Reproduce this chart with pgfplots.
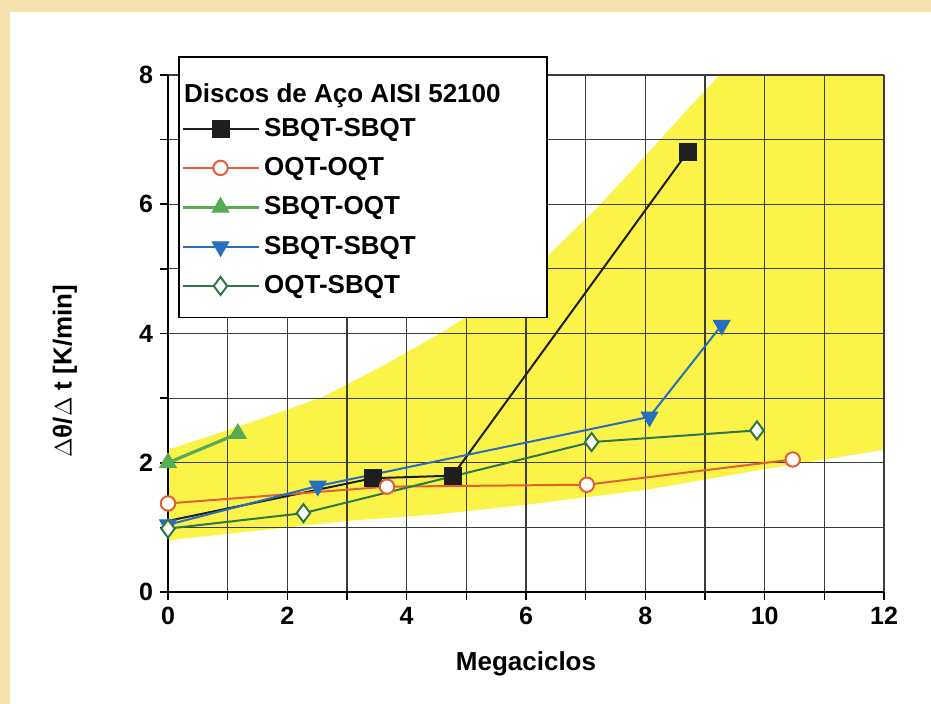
\documentclass[border=0pt]{standalone}
\usepackage{fontspec}
\setmainfont{Liberation Sans}
\usepackage{pgfplots}
\pgfplotsset{compat=1.18}
\definecolor{beige}{RGB}{245,226,176}
\definecolor{band}{RGB}{252,243,72}
\definecolor{gridc}{RGB}{60,60,60}
\definecolor{sblack}{RGB}{30,30,30}
\definecolor{sred}{RGB}{225,95,55}
\definecolor{sgreen}{RGB}{85,172,85}
\definecolor{sblue}{RGB}{40,110,190}
\definecolor{sdgreen}{RGB}{45,120,75}
\begin{document}
\begin{tikzpicture}
\path[use as bounding box, fill=white] (-84pt,-56pt) rectangle (381.5pt,296pt);
\fill[beige] (-84pt,290pt) rectangle (381.5pt,296pt);
\fill[beige] (-84pt,-56pt) rectangle (-79pt,296pt);
\begin{axis}[
  at={(0pt,0pt)}, anchor=south west,
  scale only axis, width=358pt, height=258.5pt,
  xmin=0, xmax=12, ymin=0, ymax=8,
  hide axis,
]
\addplot[fill=band, draw=none] coordinates {
 (0,2.2) (1.5,2.66) (2.6,3.02) (3.6,3.5) (4.6,4.02) (5.5,4.55) (6.35,5.19) (7.2,5.95) (8,6.75) (8.86,7.62) (9.25,8)
 (12,8) (12,2.2) (10,1.9) (8,1.58) (6,1.35) (4.5,1.2) (3,1.1) (1.5,0.95) (0,0.8)} -- cycle;
\end{axis}
\begin{axis}[
  at={(0pt,0pt)}, anchor=south west,
  scale only axis, width=358pt, height=258.5pt,
  xmin=0, xmax=12, ymin=0, ymax=8,
  xtick={0,2,...,12}, minor xtick={1,3,...,11},
  ytick={0,2,...,8}, minor ytick={1,3,5,7},
  grid=both,
  major grid style={gridc, line width=0.6pt},
  minor grid style={gridc, line width=0.6pt},
  axis lines=left,
  axis line style={-, line width=1.2pt, black},
  tick align=outside,
  major tick length=4pt, minor tick length=4pt,
  tick style={black, line width=0.8pt},
  /pgf/number format/assume math mode=true,
  ticklabel style={font=\bfseries\fontsize{12.5}{14}\selectfont},
  xlabel={Megaciclos},
  ylabel={$\Delta$θ/$\Delta$ t [K/min]},
  every axis x label/.style={at={(axis description cs:0.5,-0.139)}, anchor=center, font=\bfseries\fontsize{13}{15}\selectfont},
  every axis y label/.style={at={(axis description cs:-0.144,0.427)}, rotate=90, anchor=center, font=\bfseries\fontsize{13}{15}\selectfont},
  legend image code/.code={\draw[mark repeat=2,mark phase=2,#1] plot coordinates {(0pt,0pt) (19pt,0pt) (38pt,0pt)};},
  legend style={at={(rel axis cs:0.014,1.037)}, anchor=north west, draw=black, line width=0.9pt, fill=white,
    font=\bfseries\fontsize{13}{15}\selectfont, inner xsep=1pt, inner ysep=8.5pt, row sep=5.1pt},
  legend cell align=left,
]
\addlegendimage{empty legend}
\addlegendentry{\hspace{-40pt}\raisebox{-3pt}[9.5pt][4.5pt]{Discos de Aço AISI 52100}\hspace{20pt}\mbox{}}
\addplot[sblack, line width=1pt, mark=square*, mark size=4pt, mark indices={2,3,4}, mark options={fill=sblack, draw=sblack}, forget plot] coordinates {
 (0,1.1) (3.43,1.76) (4.77,1.8) (8.71,6.81)};
\addlegendimage{sblack, line width=1pt, mark=square*, mark size=4pt, mark options={fill=sblack, draw=sblack}}
\addlegendentry{SBQT-SBQT}
\addplot[sred, line width=1pt, mark=*, mark size=3.6pt, mark options={fill=white, draw=sred, line width=1pt}] coordinates {
 (0,1.37) (3.67,1.63) (7.02,1.66) (10.47,2.05)};
\addlegendentry{OQT-OQT}
\addplot[sgreen, line width=1.6pt, mark=triangle*, mark size=4.8pt, mark options={fill=sgreen, draw=sgreen, line width=0.5pt}] coordinates {
 (0,2.0) (1.17,2.45)};
\addlegendentry{SBQT-OQT}
\addplot[sblue, line width=1pt, mark=triangle*, mark size=4.8pt, mark options={rotate=180, fill=sblue, draw=sblue, line width=0.5pt}] coordinates {
 (0,1.04) (2.51,1.64) (8.07,2.71) (9.28,4.13)};
\addlegendentry{SBQT-SBQT}
\addplot[sdgreen, line width=1pt, mark=diamond*, mark size=4.5pt, mark options={fill=white, draw=sdgreen, line width=1pt}] coordinates {
 (0,0.98) (2.27,1.22) (7.1,2.32) (9.87,2.5)};
\addlegendentry{OQT-SBQT}
\end{axis}
\end{tikzpicture}
\end{document}
